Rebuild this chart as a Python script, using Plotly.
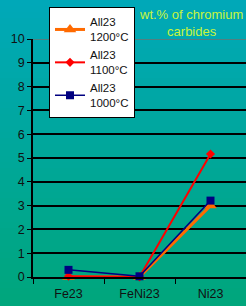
import plotly.graph_objects as go

categories = ["Fe23", "FeNi23", "Ni23"]
series_names = ["All23<br>1200°C", "All23<br>1100°C", "All23<br>1000°C"]
vals_1200 = [0.0, 0.0, 3.0]
vals_1100 = [0.03, 0.0, 5.17]
vals_1000 = [0.3, 0.03, 3.21]
y_ticks = list(range(0, 11))
title_text = "wt.% of chromium<br>carbides"

W, H = 246, 306
ML, MR, MT, MB = 33, 0, 39, 29
PW, PH = W - ML - MR, H - MT - MB

fig = go.Figure()

styles = [
    dict(color="#ff6a00", width=3, symbol="triangle-up", size=11),
    dict(color="#ff0000", width=2, symbol="diamond", size=7),
    dict(color="#000080", width=1.5, symbol="square", size=8),
]
for name, vals, st in zip(series_names, [vals_1200, vals_1100, vals_1000], styles):
    fig.add_trace(go.Scatter(
        x=categories, y=vals, name=name, mode="lines+markers",
        line=dict(color=st["color"], width=st["width"]),
        marker=dict(color=st["color"], symbol=st["symbol"], size=st["size"]),
        cliponaxis=False,
    ))

# gradient background stripes
top = (0, 168, 184)
bot = (0, 166, 124)
n = 51
shapes = []
for i in range(n):
    t = i / (n - 1)
    c = tuple(round(top[k] + (bot[k] - top[k]) * t) for k in range(3))
    p0 = H * i / n
    p1 = H * (i + 1) / n + 1
    shapes.append(dict(
        type="rect", xref="paper", yref="paper",
        x0=-ML / PW, x1=1 + MR / PW + 0.01,
        y0=(H - MB - p1) / PH, y1=(H - MB - p0) / PH,
        fillcolor="rgb(%d,%d,%d)" % c, line=dict(width=0), layer="below",
    ))
# lighter top gridline
shapes.append(dict(type="line", xref="paper", yref="y", x0=0, x1=1, y0=10, y1=10,
                   line=dict(color="#707070", width=1.5), layer="above"))

fig.update_layout(
    width=W, height=H,
    margin=dict(l=ML, r=MR, t=MT, b=MB, autoexpand=False),
    paper_bgcolor="rgb(0,167,154)",
    plot_bgcolor="rgba(0,0,0,0)",
    shapes=shapes,
    font=dict(family="Liberation Sans, Arial, sans-serif", size=12.5, color="#111111"),
    showlegend=True,
    legend=dict(
        xref="container", yref="container",
        x=49 / W, y=1 - 7 / H, xanchor="left", yanchor="top",
        bgcolor="white", bordercolor="black", borderwidth=1,
        font=dict(size=11.5, color="#111111"), tracegroupgap=0, itemwidth=30,
    ),
    annotations=[dict(
        text=title_text, xref="paper", yref="paper",
        x=(191 - ML) / PW, y=(H - MB - 23) / PH, xanchor="center", yanchor="middle",
        showarrow=False, font=dict(size=13, color="#c8f53c"),
    )],
)
fig.update_xaxes(
    type="category", showgrid=False, showline=True, linecolor="black", linewidth=1.5,
    ticks="outside", tickson="boundaries", ticklen=5, tickcolor="black",
    range=[-0.5, 2.5], zeroline=False, automargin=False, ticklabelstandoff=4,
)
fig.update_yaxes(
    range=[0, 10], tickvals=y_ticks, showgrid=True, gridcolor="black", gridwidth=2,
    showline=True, linecolor="black", linewidth=1.5, ticks="outside", ticklen=4,
    tickcolor="black", zeroline=False, automargin=False,
)

fig.write_html(
    "out.html",
    config={"displayModeBar": False},
    post_script="document.body.style.margin='0';document.body.style.overflow='hidden';",
)
